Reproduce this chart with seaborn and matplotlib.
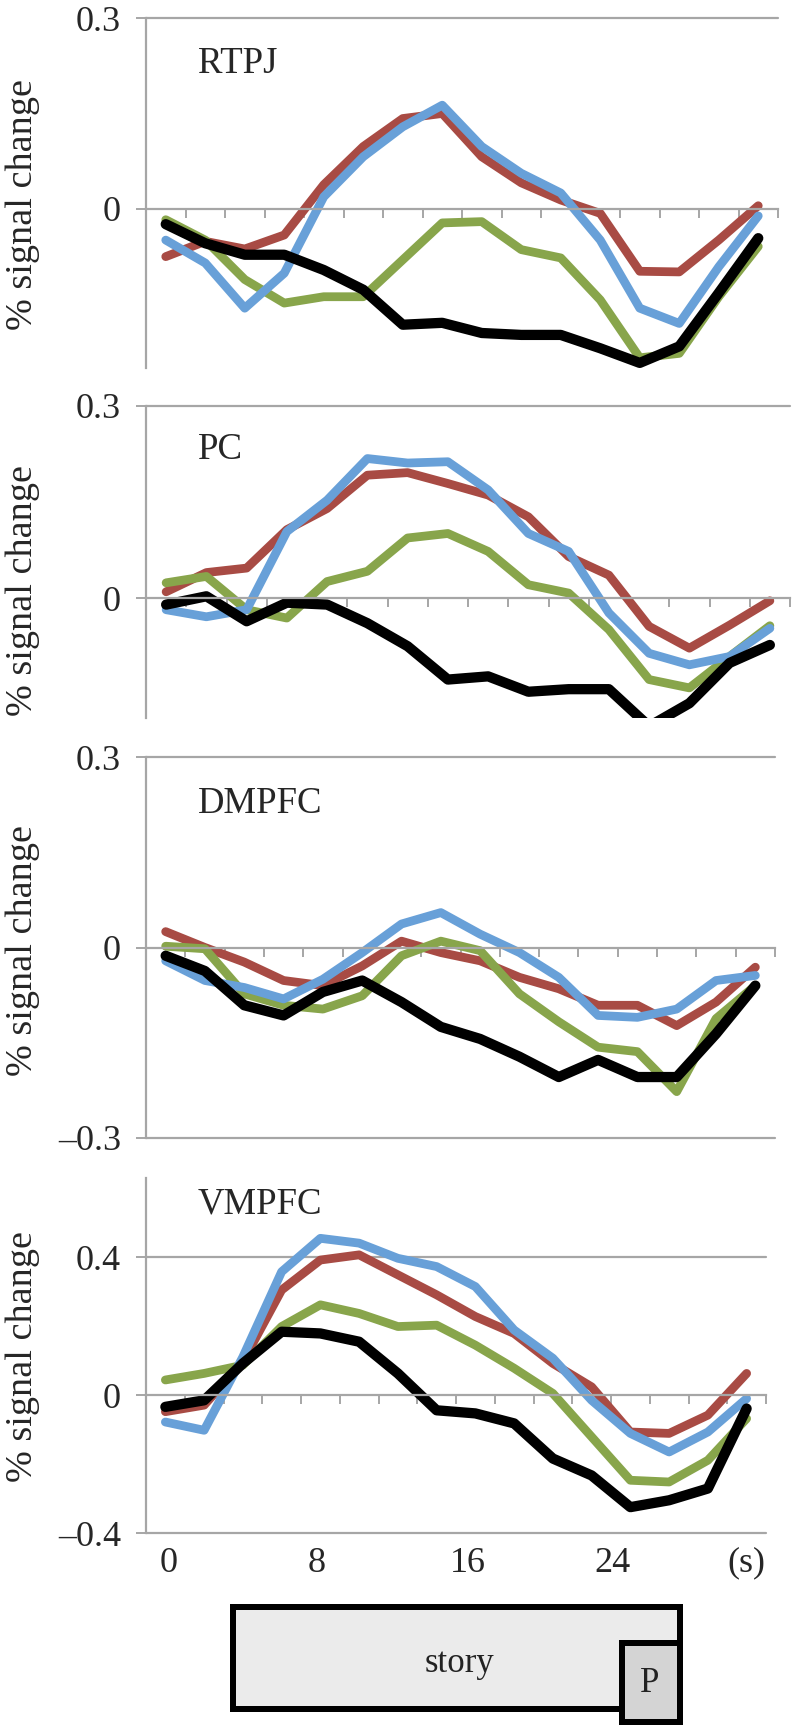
import numpy as np
import pandas as pd
import seaborn as sns
import matplotlib.pyplot as plt
from matplotlib.patches import Rectangle

# time points (s)
times = [0, 2, 4, 6, 8, 10, 12, 14, 16, 18, 20, 22, 24, 26, 28, 30]

# % signal change per region, one list per condition
rtpj = {
    'red':   [-0.075, -0.051, -0.063, -0.041, 0.038, 0.098, 0.142, 0.150, 0.082, 0.041, 0.014, -0.007, -0.098, -0.099, -0.049, 0.005],
    'green': [-0.017, -0.049, -0.111, -0.148, -0.138, -0.138, -0.080, -0.022, -0.020, -0.064, -0.077, -0.143, -0.234, -0.227, -0.138, -0.059],
    'blue':  [-0.049, -0.085, -0.156, -0.101, 0.019, 0.082, 0.129, 0.163, 0.098, 0.056, 0.025, -0.049, -0.156, -0.180, -0.091, -0.011],
    'black': [-0.024, -0.054, -0.072, -0.072, -0.096, -0.127, -0.182, -0.179, -0.195, -0.198, -0.198, -0.219, -0.242, -0.216, -0.132, -0.046],
}
pc = {
    'red':   [0.010, 0.040, 0.047, 0.107, 0.140, 0.192, 0.196, 0.179, 0.161, 0.127, 0.065, 0.036, -0.044, -0.078, -0.042, -0.004],
    'green': [0.024, 0.034, -0.018, -0.031, 0.026, 0.042, 0.094, 0.101, 0.073, 0.021, 0.008, -0.049, -0.127, -0.140, -0.091, -0.043],
    'blue':  [-0.018, -0.029, -0.018, 0.104, 0.153, 0.218, 0.211, 0.213, 0.169, 0.101, 0.073, -0.023, -0.086, -0.104, -0.091, -0.047],
    'black': [-0.010, 0.003, -0.036, -0.007, -0.010, -0.039, -0.075, -0.127, -0.122, -0.146, -0.142, -0.142, -0.200, -0.164, -0.101, -0.073],
}
dmpfc = {
    'red':   [0.025, 0.000, -0.023, -0.052, -0.060, -0.029, 0.010, -0.008, -0.021, -0.047, -0.065, -0.091, -0.091, -0.123, -0.086, -0.031],
    'green': [0.002, -0.002, -0.073, -0.091, -0.097, -0.076, -0.013, 0.010, -0.005, -0.073, -0.117, -0.157, -0.164, -0.227, -0.112, -0.060],
    'blue':  [-0.021, -0.052, -0.063, -0.081, -0.050, -0.008, 0.037, 0.055, 0.021, -0.008, -0.047, -0.107, -0.110, -0.097, -0.052, -0.044],
    'black': [-0.013, -0.037, -0.091, -0.107, -0.070, -0.052, -0.086, -0.125, -0.144, -0.172, -0.204, -0.177, -0.204, -0.204, -0.136, -0.060],
}
vmpfc = {
    'red':   [-0.048, -0.029, 0.097, 0.305, 0.392, 0.407, 0.349, 0.291, 0.228, 0.179, 0.092, 0.024, -0.107, -0.111, -0.058, 0.063],
    'green': [0.044, 0.063, 0.087, 0.199, 0.262, 0.237, 0.199, 0.203, 0.145, 0.078, 0.005, -0.121, -0.247, -0.252, -0.189, -0.068],
    'blue':  [-0.078, -0.102, 0.111, 0.358, 0.455, 0.441, 0.397, 0.373, 0.315, 0.189, 0.107, -0.015, -0.111, -0.165, -0.107, -0.010],
    'black': [-0.034, -0.015, 0.092, 0.184, 0.179, 0.155, 0.063, -0.044, -0.053, -0.082, -0.184, -0.233, -0.325, -0.305, -0.271, -0.039],
}

region_names = ['RTPJ', 'PC', 'DMPFC', 'VMPFC']
region_data = [rtpj, pc, dmpfc, vmpfc]
ylims = [(-0.25, 0.3), (-0.187, 0.3), (-0.3, 0.3), (-0.4, 0.63)]
yticks = [[0.3, 0], [0.3, 0], [0.3, 0, -0.3], [0.4, 0, -0.4]]
yticklabels = [['0.3', '0'], ['0.3', '0'], ['0.3', '0', '\u20130.3'], ['0.4', '0', '\u20130.4']]

xlabels = ['0', '8', '16', '24', '(s)']
xlabel_pos = [0.15, 7.8, 15.6, 23.1, 30]

colors = {'red': '#A84B44', 'green': '#88A54B', 'blue': '#68A0D8', 'black': '#000000'}
widths = {'red': 6.3, 'green': 6.3, 'blue': 6.3, 'black': 7.4}
order = ['red', 'green', 'blue', 'black']

sns.set_style('white')
plt.rcParams['font.family'] = ['Liberation Serif', 'DejaVu Serif']
grid_col = '#A6A6A6'

W, H = 792, 1728
fig = plt.figure(figsize=(W / 100, H / 100), dpi=100)

# axes boxes in pixels: left, right, top, bottom
boxes = [(146, 778, 18, 368), (146, 790, 406, 718), (146, 775, 757, 1138), (146, 766, 1178, 1533)]
title_base = [73, 459, 813, 1213]
ylabel_y = [205, 590, 950, 1357]

for k, name in enumerate(region_names):
    l, r, t, b = boxes[k]
    ax = fig.add_axes([l / W, 1 - b / H, (r - l) / W, (b - t) / H])

    df = pd.DataFrame({c: region_data[k][c] for c in order})
    df['time'] = times
    long = df.melt(id_vars='time', var_name='cond', value_name='signal')
    for c in order:
        sns.lineplot(data=long[long['cond'] == c], x='time', y='signal', color=colors[c],
                     linewidth=widths[c], ax=ax, legend=False,
                     solid_capstyle='round', solid_joinstyle='round')

    ax.set_xlim(-1, 31)
    ax.set_ylim(*ylims[k])
    ax.set_xlabel('')
    ax.set_ylabel('')

    for v in yticks[k]:
        if v != 0:
            ax.axhline(v, color=grid_col, lw=1.6, zorder=0, clip_on=False)

    for s in ['top', 'right']:
        ax.spines[s].set_visible(False)
    ax.spines['left'].set_color(grid_col)
    ax.spines['left'].set_linewidth(1.6)
    ax.spines['bottom'].set_position(('data', 0))
    ax.spines['bottom'].set_color(grid_col)
    ax.spines['bottom'].set_linewidth(1.6)

    ax.set_xticks([1, 3, 5, 7, 9, 11, 13, 15, 17, 19, 21, 23, 25, 27, 29, 31])
    ax.set_xticklabels([])
    ax.tick_params(axis='x', direction='out', length=6.5, width=1.4, color=grid_col, bottom=True)
    ax.set_yticks(yticks[k])
    ax.set_yticklabels(yticklabels[k], fontsize=26)
    ax.tick_params(axis='y', direction='out', length=7, width=1.4, color=grid_col, pad=11, left=True)

    fig.text(198 / W, 1 - title_base[k] / H, name, fontsize=26.5, ha='left', va='baseline')
    fig.text(23 / W, 1 - ylabel_y[k] / H, '% signal change', fontsize=27.5, rotation=90,
             ha='center', va='center')

    if k == 3:
        for p, lab in zip(xlabel_pos, xlabels):
            ax.text(p, -0.085, lab, fontsize=26, ha='center', va='center',
                    transform=ax.get_xaxis_transform())

# stimulus timeline box
lw_px = 6
fig.add_artist(Rectangle(((230 + 3) / W, 1 - (1712 - 3) / H), (683 - 230 - 6) / W, (1712 - 1604 - 6) / H,
                         transform=fig.transFigure, facecolor='#EBEBEB', edgecolor='black', lw=lw_px * 0.72))
fig.add_artist(Rectangle(((619 + 3) / W, 1 - (1725 - 3) / H), (683 - 619 - 6) / W, (1725 - 1640 - 6) / H,
                         transform=fig.transFigure, facecolor='#D4D4D4', edgecolor='black', lw=lw_px * 0.72))
fig.text(460 / W, 1 - 1663 / H, 'story', fontsize=25, ha='center', va='center', color='#222222')
fig.text(650 / W, 1 - 1683 / H, 'P', fontsize=25, ha='center', va='center', color='#222222')

fig.savefig('out.png', dpi=100)
